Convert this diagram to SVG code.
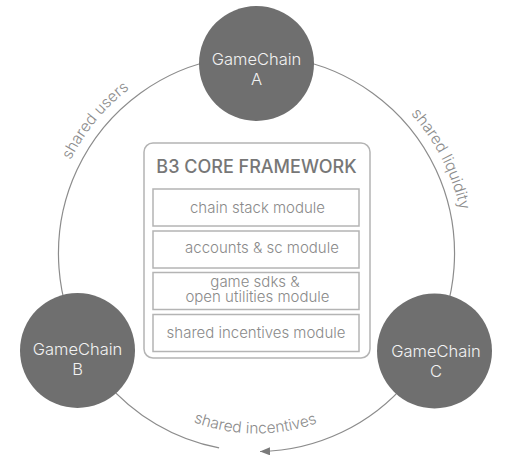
<svg xmlns="http://www.w3.org/2000/svg" width="512" height="473" viewBox="0 0 512 473">
<style>
.conn{fill:none;stroke:#8c8c8c;stroke-width:1.2}
.node{fill:#6f6f6f}
.ntext{font-family:Inter,'Liberation Sans',sans-serif;font-size:16.5px;font-weight:300;fill:#f2f2f2;text-anchor:middle}
.lbl{font-family:Inter,'Liberation Sans',sans-serif;font-size:15.5px;font-weight:300;fill:#8c8c8c}
.frame{fill:#fff;stroke:#b4b4b4;stroke-width:1.5}
.mod{fill:#fff;stroke:#b4b4b4;stroke-width:1.5}
.mtext{font-family:Inter,'Liberation Sans',sans-serif;font-size:15px;font-weight:300;fill:#8a8a8a;text-anchor:middle}
.title{font-family:Inter,'Liberation Sans',sans-serif;font-size:18px;font-weight:500;fill:#777;text-anchor:middle}
</style>
<defs>
<marker id="arrow" markerUnits="userSpaceOnUse" markerWidth="10" markerHeight="8" refX="10" refY="4" orient="auto">
<path d="M0,0 L10,4 L0,8 z" fill="#7a7a7a"/>
</marker>
<path id="pUsers" d="M48.5,255.3 A208,208 0 0 1 218.6,48.9"/>
<path id="pLiq" d="M334.8,60.8 A208,208 0 0 1 459.9,297.1"/>
<path id="pInc" d="M140.8,391.4 A180,180 0 0 0 372.2,391.4"/>
</defs>
<rect width="512" height="473" fill="#fff"/>
<g id="connectors">
<path class="conn" d="M222.1,58.5 A198,198 0 0 0 85.0,352.5"/>
<path class="conn" d="M290.9,58.5 A198,198 0 0 1 428.0,352.5"/>
<path class="conn" d="M408.2,380.8 A198,198 0 0 1 260.0,451.5" marker-end="url(#arrow)"/>
<path class="conn" d="M104.8,380.8 A198,198 0 0 0 219.1,447.9"/>
<text class="lbl"><textPath href="#pUsers" startOffset="50%" text-anchor="middle">shared users</textPath></text>
<text class="lbl"><textPath href="#pLiq" startOffset="51%" text-anchor="middle">shared liquidity</textPath></text>
<text class="lbl"><textPath href="#pInc" startOffset="49.5%" text-anchor="middle">shared incentives</textPath></text>
</g>
<g id="nodeA">
<circle class="node" cx="256.5" cy="63.5" r="57.5"/>
<text class="ntext" x="256.5" y="65">GameChain</text>
<text class="ntext" x="256.5" y="85">A</text>
</g>
<g id="nodeB">
<circle class="node" cx="77.5" cy="350.5" r="57.5"/>
<text class="ntext" x="77.5" y="355">GameChain</text>
<text class="ntext" x="77.5" y="375">B</text>
</g>
<g id="nodeC">
<circle class="node" cx="434.5" cy="351" r="57.5"/>
<text class="ntext" x="436" y="357">GameChain</text>
<text class="ntext" x="436" y="377">C</text>
</g>
<g id="framework">
<rect class="frame" x="144" y="143" width="226" height="215" rx="9"/>
<text class="title" x="256.5" y="173">B3 CORE FRAMEWORK</text>
<rect class="mod" x="153" y="189" width="206" height="37"/>
<text class="mtext" x="257.5" y="213">chain stack module</text>
<rect class="mod" x="153" y="231" width="206" height="37"/>
<text class="mtext" x="262" y="253">accounts &amp; sc module</text>
<rect class="mod" x="153" y="272.5" width="206" height="37"/>
<text class="mtext" x="255" y="287">game sdks &amp;</text>
<text class="mtext" x="257.5" y="302">open utilities module</text>
<rect class="mod" x="153" y="314.5" width="206" height="37"/>
<text class="mtext" x="256" y="338">shared incentives module</text>
</g>
</svg>
